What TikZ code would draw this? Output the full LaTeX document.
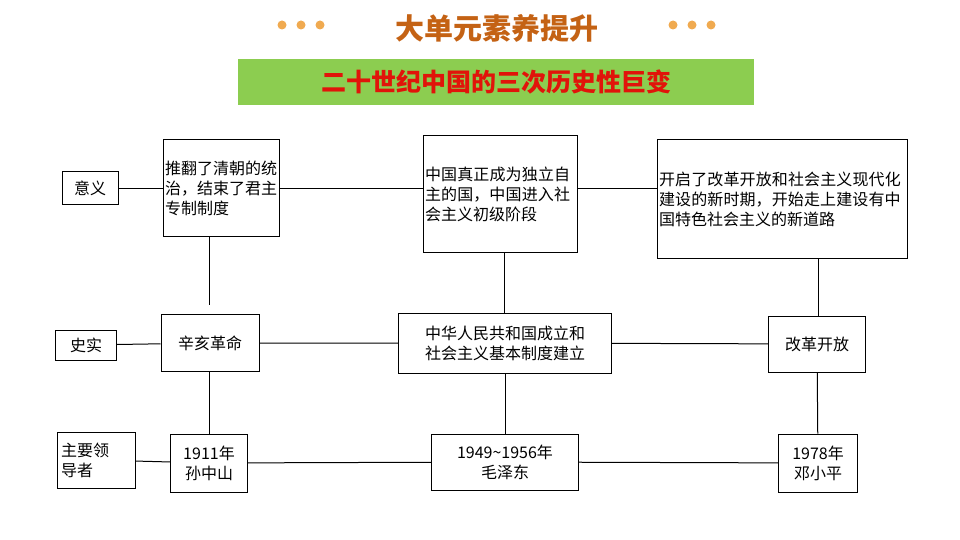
\documentclass[tikz,border=0pt]{standalone}
\usepackage{fontspec}
\setmainfont{Noto Sans CJK SC}
\XeTeXlinebreaklocale "zh"
\XeTeXlinebreakskip=0pt plus 1pt
\usetikzlibrary{positioning}
\definecolor{titlebrown}{RGB}{196,98,20}
\definecolor{dotorange}{RGB}{240,170,80}
\definecolor{bargreen}{RGB}{140,205,80}
\definecolor{barred}{RGB}{225,20,10}
\tikzset{
  box/.style={draw, line width=1pt, inner sep=2pt, font=\fontsize{16}{20}\selectfont, align=left},
  tag/.style={box, align=center},
  link/.style={line width=1pt}
}
\begin{document}
\begin{tikzpicture}[x=1pt,y=-1pt]
\useasboundingbox (0,0) rectangle (960,540);
% title
\node (title) at (497,28) {\fontsize{29}{32}\selectfont\bfseries\color{titlebrown}大单元素养提升};
\foreach \x in {282,301,320,673,692,711}
  \fill[dotorange] (\x,25) circle (4.5);
\fill[bargreen] (238,59) rectangle (754,105);
\node (subtitle) at (496,82) {\fontsize{25}{28}\selectfont\bfseries\color{barred}二十世纪中国的三次历史性巨变};
% rows
\node[tag, minimum width=56, minimum height=32] (yiyi) at (90,188) {意义};
\node[tag, minimum width=61, minimum height=30] (shishi) at (86,345) {史实};
\node[box, minimum width=78, minimum height=56, text width=70] (lingdao) at (96,460) {主要领\\导者};
% meaning
\node[box, text width=112, minimum height=96] (m1) at (221,188) {推翻了清朝的统治，结束了君主专制制度};
\node[box, text width=150, minimum height=116] (m2) at (500,194) {中国真正成为独立自主的国，中国进入社会主义初级阶段};
\node[box, text width=246, minimum height=118] (m3) at (782,199) {开启了改革开放和社会主义现代化建设的新时期，开始走上建设有中国特色社会主义的新道路};
% facts
\node[tag, minimum width=98, minimum height=57] (f1) at (210,343) {辛亥革命};
\node[tag, minimum width=213, minimum height=60] (f2) at (505,343) {中华人民共和国成立和\\社会主义基本制度建立};
\node[tag, minimum width=97, minimum height=56] (f3) at (817,344) {改革开放};
% leaders
\node[tag, minimum width=77, minimum height=58] (l1) at (209,463) {1911年\\孙中山};
\node[tag, minimum width=147, minimum height=56] (l2) at (505,462) {1949\textasciitilde1956年\\毛泽东};
\node[tag, minimum width=79, minimum height=58] (l3) at (818,463) {1978年\\邓小平};
% links
\draw[link] (yiyi) -- (m1);
\draw[link] (m1.east |- 0,188) -- (m2.west |- 0,188);
\draw[link] (m2.east |- 0,188) -- (m3.west |- 0,188);
\draw[link] (shishi) -- (f1) -- (f2) -- (f3);
\draw[link] (lingdao) -- (l1) -- (l2) -- (l3);
\draw[link] (m1.south -| 209,0) -- (209,305);
\draw[link] (m2.south -| 504,0) -- (f2.north -| 504,0);
\draw[link] (m3.south -| 818,0) -- (f3.north -| 818,0);
\draw[link] (f1.south -| 209,0) -- (l1.north -| 209,0);
\draw[link] (f2) -- (l2);
\draw[link] (f3) -- (l3);
\end{tikzpicture}
\end{document}
